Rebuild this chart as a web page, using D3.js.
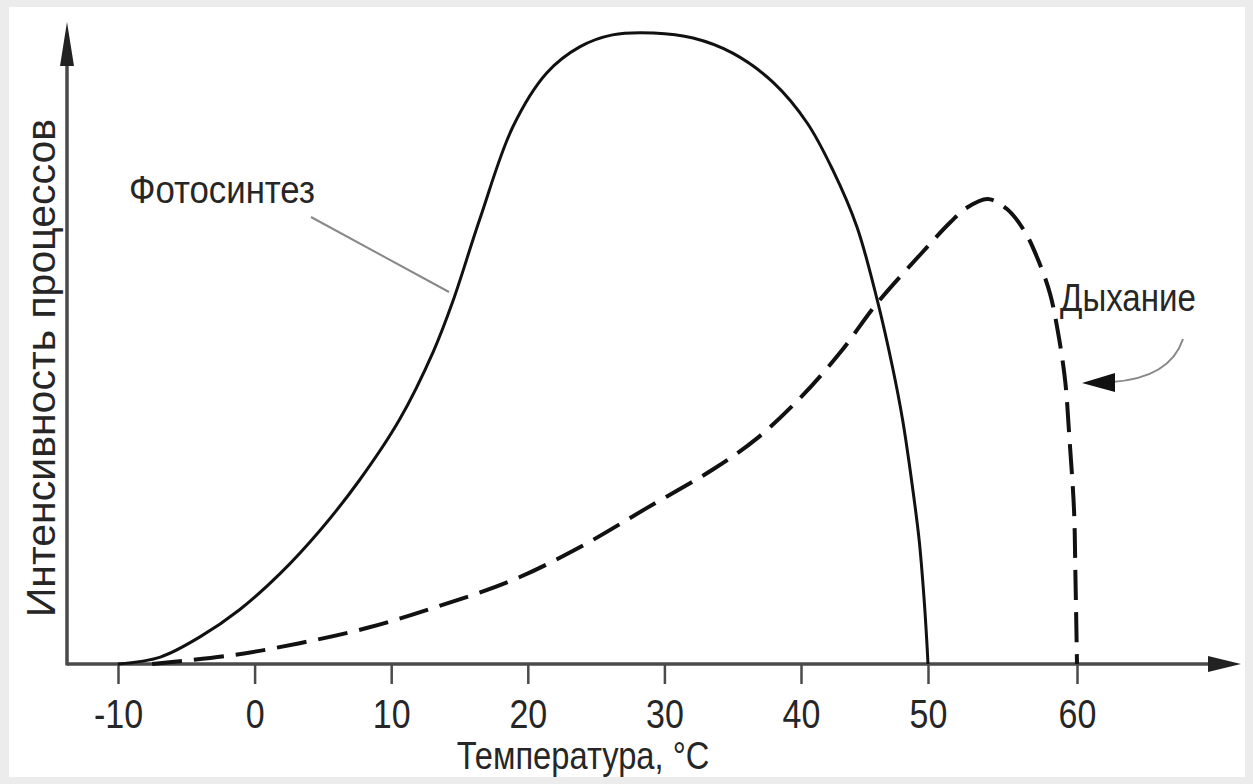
<!DOCTYPE html>
<html>
<head>
<meta charset="utf-8">
<script src="https://cdn.jsdelivr.net/npm/d3@7"></script>
<style>
  body { margin: 0; background: #ececec; }
  text { font-family: "Liberation Sans", Arial, sans-serif; fill: #262626; }
</style>
</head>
<body>
<script>
// temperature ticks, deg C
var tempTicks = [-10, 0, 10, 20, 30, 40, 50, 60];

// photosynthesis (solid) - temperature and relative intensity
var photoT = [-10, -6.9, -4.0, -1.1, 1.9, 4.8, 7.7, 10.6, 13.1, 14.5, 16.5, 18.9, 21.4, 23.8, 26.2, 29.2, 32.1, 35.0, 38.0, 40.5, 42.5, 44.4, 46.0, 47.2, 48.0, 48.7, 49.3, 49.7, 49.9, 50];
var photoI = [0, 1.1, 4.3, 8.6, 14.4, 21.2, 29.2, 38.7, 49.6, 57.4, 70.6, 85.1, 93.7, 97.8, 99.7, 100, 99.2, 96.8, 92.1, 85.7, 78.3, 69.3, 57.7, 47.1, 38.7, 29.2, 19.7, 10.1, 3.8, 0];

// respiration (dashed)
var respT = [-7.5, -1.6, 3.3, 8.2, 13.1, 18.9, 23.8, 28.7, 33.6, 36.8, 40.0, 43.1, 46.0, 49.4, 51.5, 52.6, 54.0, 55.3, 56.5, 57.5, 58.2, 58.7, 59.2, 59.5, 59.8, 59.9, 60];
var respI = [0, 1.4, 3.3, 5.7, 8.9, 13.3, 18.5, 24.7, 30.9, 35.8, 42.3, 49.4, 57.2, 64.9, 70.0, 72.3, 73.7, 72.1, 68.5, 63.4, 58.6, 52.9, 45.0, 35.5, 24.4, 13.3, 0];

var W = 1253, H = 784;
var axisColor = "#4a4a4a";

var svg = d3.select("body").append("svg").attr("width", W).attr("height", H);
svg.append("rect").attr("x", 9).attr("y", 7).attr("width", 1236).attr("height", 770).attr("fill", "#fff");

// the drawing is hand made: 50 and 60 are spaced a bit differently
var x = d3.scaleLinear().domain([-10, 40, 50, 60]).range([118, 801, 928, 1077]);
var y = d3.scaleLinear().domain([0, 100]).range([664, 33]);

var x0 = 67, y0 = y(0);

// x axis ticks + labels
var xAxis = svg.append("g").attr("transform", "translate(0," + y0 + ")")
  .call(d3.axisBottom(x).tickValues(tempTicks).tickSize(20).tickPadding(16).tickFormat(function(d){ return d < 0 ? "-" + Math.abs(d) : d; }));
xAxis.select(".domain").remove();
xAxis.selectAll(".tick line").attr("stroke", axisColor).attr("stroke-width", 2.5);
xAxis.selectAll(".tick text").style("font-size", "40px").attr("fill", "#262626").attr("transform", "scale(0.85,1)");

// axis lines with arrow heads
svg.append("line").attr("x1", x0).attr("y1", y0).attr("x2", 1215).attr("y2", y0)
  .attr("stroke", axisColor).attr("stroke-width", 3.5);
svg.append("path").attr("d", "M1241," + y0 + "L1208," + (y0 - 8) + "L1208," + (y0 + 8) + "Z").attr("fill", "#222");
svg.append("line").attr("x1", x0).attr("y1", y0 + 1.5).attr("x2", x0).attr("y2", 55)
  .attr("stroke", axisColor).attr("stroke-width", 3.5);
svg.append("path").attr("d", "M" + x0 + ",22L" + (x0 - 7) + ",66L" + (x0 + 7) + ",66Z").attr("fill", "#222");

// curves
var line = d3.line().x(function(d){ return x(d[0]); }).y(function(d){ return y(d[1]); }).curve(d3.curveCatmullRom.alpha(0.5));

svg.append("path").datum(d3.zip(respT, respI)).attr("d", line)
  .attr("fill", "none").attr("stroke", "#111").attr("stroke-width", 4).attr("stroke-dasharray", "30 12");
svg.append("path").datum(d3.zip(photoT, photoI)).attr("d", line)
  .attr("fill", "none").attr("stroke", "#111").attr("stroke-width", 3);

// labels
svg.append("text").attr("transform", "translate(583,769) scale(0.86,1)").attr("text-anchor", "middle")
  .style("font-size", "38px").text("Температура, °C");
svg.append("text").attr("transform", "translate(55,368) rotate(-90)").attr("text-anchor", "middle")
  .style("font-size", "41px").text("Интенсивность процессов");

svg.append("text").attr("transform", "translate(129,203) scale(0.915,1)").style("font-size", "38px").text("Фотосинтез");
svg.append("line").attr("x1", 311).attr("y1", 217).attr("x2", 449).attr("y2", 292)
  .attr("stroke", "#888").attr("stroke-width", 2);

svg.append("text").attr("transform", "translate(1060,311) scale(0.87,1)").style("font-size", "38px").text("Дыхание");
svg.append("path").attr("d", "M1183,339 Q1170,378 1112,382").attr("fill", "none").attr("stroke", "#888").attr("stroke-width", 2);
svg.append("path").attr("d", "M1082,383L1115,373L1115,392Z").attr("fill", "#111");
</script>
</body>
</html>
